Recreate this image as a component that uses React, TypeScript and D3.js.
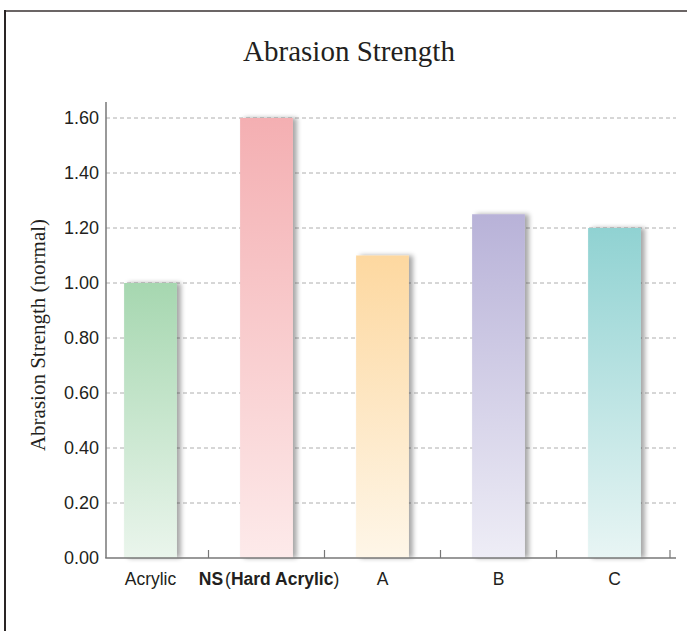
import React from "react";
import { scaleBand, scaleLinear } from "d3";

// Datos
const categories = ["Acrylic", "NS", "A", "B", "C"];
const values = [1.0, 1.6, 1.1, 1.25, 1.2];
const yTicks = [0, 0.2, 0.4, 0.6, 0.8, 1.0, 1.2, 1.4, 1.6];
const topColors = ["#a6d7b0", "#f4afb2", "#fdd8a0", "#b8b2d8", "#90d2d2"];
const bottomColors = ["#eaf5ec", "#fdeaea", "#fef6e8", "#eeedf6", "#e8f5f4"];

const W = 687;
const H = 631;

const App: React.FC = () => {
  const x = scaleBand<string>()
    .domain(categories)
    .range([92.5, 672.5])
    .paddingInner(0.545)
    .paddingOuter(0.2725);

  const y = scaleLinear().domain([0, 1.6]).range([558, 118]);

  const axisLeft = 106;
  const axisRight = 676;
  const step = x.step();

  return (
    <svg
      width={W}
      height={H}
      style={{ display: "block", position: "absolute", left: 0, top: 0 }}
    >
      <defs>
        {categories.map((c, i) => (
          <linearGradient key={c} id={`g${i}`} x1="0" y1="0" x2="0" y2="1">
            <stop offset="0%" stopColor={topColors[i]} />
            <stop offset="100%" stopColor={bottomColors[i]} />
          </linearGradient>
        ))}
        <filter id="shadow" x="-20%" y="-5%" width="150%" height="110%">
          <feGaussianBlur in="SourceAlpha" stdDeviation="2.5" />
          <feOffset dx="4" dy="0" result="b" />
          <feComponentTransfer>
            <feFuncA type="linear" slope="0.35" />
          </feComponentTransfer>
          <feMerge>
            <feMergeNode />
            <feMergeNode in="SourceGraphic" />
          </feMerge>
        </filter>
      </defs>

      <rect width={W} height={H} fill="#fff" />

      {/* Marco */}
      <line x1={4} x2={W} y1={11} y2={11} stroke="#6b6565" strokeWidth={2} />
      <line x1={5} x2={5} y1={10} y2={H} stroke="#2a2525" strokeWidth={2} />

      {/* Título */}
      <text
        x={349}
        y={61}
        textAnchor="middle"
        fontFamily="'Liberation Serif', serif"
        fontSize={29}
        fill="#231f20"
      >
        Abrasion Strength
      </text>

      {/* Cuadrícula */}
      {yTicks
        .filter((t) => t > 0)
        .map((t) => (
          <line
            key={t}
            x1={axisLeft}
            x2={axisRight}
            y1={y(t)}
            y2={y(t)}
            stroke="#9a9a9a"
            strokeWidth={0.8}
            strokeDasharray="4,3"
          />
        ))}

      {/* Barras */}
      {categories.map((c, i) => (
        <rect
          key={c}
          x={x(c)}
          y={y(values[i])}
          width={x.bandwidth()}
          height={y(0) - y(values[i])}
          fill={`url(#g${i})`}
          filter="url(#shadow)"
        />
      ))}

      {/* Ejes */}
      <line
        x1={axisLeft}
        x2={axisLeft}
        y1={102}
        y2={y(0)}
        stroke="#777"
        strokeWidth={1.5}
      />
      <line
        x1={axisLeft - 0.75}
        x2={axisRight}
        y1={y(0)}
        y2={y(0)}
        stroke="#777"
        strokeWidth={1.5}
      />
      {categories.map((c) => {
        const xt = (x(c) ?? 0) + x.bandwidth() / 2 + step / 2;
        return (
          <line
            key={c}
            x1={Math.min(xt, axisRight - 6)}
            x2={Math.min(xt, axisRight - 6)}
            y1={y(0)}
            y2={y(0) - 8}
            stroke="#777"
            strokeWidth={1.2}
          />
        );
      })}

      {/* Etiquetas eje Y */}
      {yTicks.map((t) => (
        <text
          key={t}
          x={99}
          y={y(t)}
          dy="0.36em"
          textAnchor="end"
          fontFamily="'Liberation Sans', Arial, sans-serif"
          fontSize={18}
          fill="#231f20"
        >
          {t.toFixed(2)}
        </text>
      ))}

      <text
        transform={`translate(45,335) rotate(-90)`}
        textAnchor="middle"
        fontFamily="'Liberation Serif', serif"
        fontSize={21}
        fill="#231f20"
      >
        Abrasion Strength (normal)
      </text>

      {/* Etiquetas eje X */}
      {categories.map((c) => {
        const cx = (x(c) ?? 0) + x.bandwidth() / 2;
        return (
          <text
            key={c}
            x={c === "NS" ? 269 : cx}
            y={585}
            textAnchor="middle"
            fontFamily="'Liberation Sans', Arial, sans-serif"
            fontSize={17.5}
            fill="#231f20"
            fontWeight={c === "NS" ? "bold" : "normal"}
          >
            {c === "NS" ? (
              <>
                NS<tspan fontWeight="normal" dx={2}>(</tspan>Hard Acrylic
                <tspan fontWeight="normal">)</tspan>
              </>
            ) : (
              c
            )}
          </text>
        );
      })}
    </svg>
  );
};

export default App;
